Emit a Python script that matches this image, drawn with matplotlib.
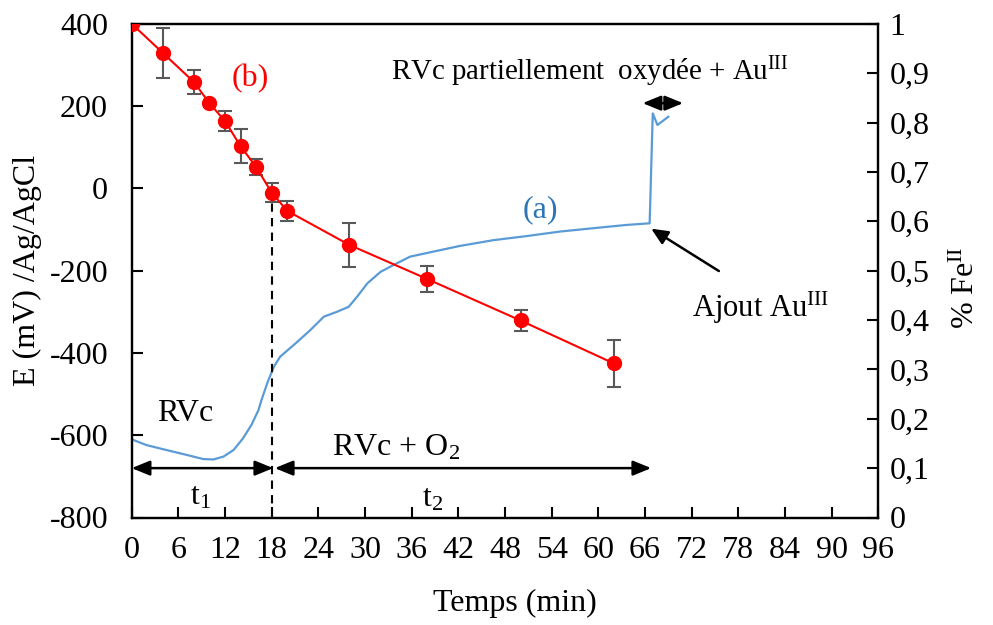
import numpy as np
import matplotlib
matplotlib.use("Agg")
import matplotlib.pyplot as plt
from matplotlib.ticker import FuncFormatter, MultipleLocator

plt.rcParams['font.family'] = ['Liberation Serif', 'DejaVu Serif']
plt.rcParams['mathtext.fontset'] = 'custom'
plt.rcParams['mathtext.rm'] = 'Liberation Serif'
plt.rcParams['mathtext.it'] = 'Liberation Serif:italic'
plt.rcParams['axes.unicode_minus'] = False

# (a) potential curve, E (mV) vs time (min)
t_a = [0, 1.9, 4.9, 7.1, 9.2, 10.5, 11.8, 13.1, 14.3, 15.4, 16.3, 16.7, 17.5,
       18.3, 19.1, 21.3, 23.0, 24.7, 26.4, 27.9, 29.0, 30.3, 32.0, 33.7, 35.8,
       38.0, 42.2, 46.5, 50.8, 55.1, 59.3, 63.6, 66.6, 67.0, 67.6, 69.0]
E_a = [-610, -624, -638, -648, -658, -659, -652, -636, -608, -575, -539, -514, -470,
       -433, -409, -373, -344, -312, -300, -288, -263, -231, -203, -186, -166,
       -157, -140, -126, -116, -105, -97, -89, -85, 182, 154, 174]

# (b) fraction of Fe(II) with error bars
t_b = [0, 4, 8, 10, 12, 14, 16, 18, 20, 28, 38, 50, 62]
fe_b = [1.0, 0.941, 0.882, 0.839, 0.803, 0.752, 0.710, 0.658, 0.621, 0.552, 0.483, 0.399, 0.312]
err_b = [0, 0.051, 0.025, 0.0, 0.020, 0.034, 0.017, 0.020, 0.020, 0.044, 0.026, 0.022, 0.047]

fs = 23
fig = plt.figure(figsize=(9.93, 6.25), dpi=100)
ax = fig.add_axes([0.1326, 0.172, 0.7519, 0.790])
ax2 = ax.twinx()

ax.plot(t_a, E_a, color='#5B9BD5', lw=1.6)
ax2.errorbar(t_b, fe_b, yerr=err_b, fmt='none', ecolor='#595959', elinewidth=1.5,
             capsize=5, capthick=1.5, zorder=2)
ax2.plot(t_b, fe_b, color='red', lw=1.5, marker='o', markersize=10, zorder=3)

# dashed line at t = 18
ax2.plot([18, 18], [0, fe_b[7]], color='black', ls=(0, (4, 3)), lw=1.5, zorder=1)

ax.set_xlim(0, 96)
ax.set_ylim(-800, 400)
ax2.set_ylim(0, 1)
ax.xaxis.set_major_locator(MultipleLocator(6))
ax.yaxis.set_major_locator(MultipleLocator(200))
ax2.yaxis.set_major_locator(MultipleLocator(0.1))
ax.yaxis.set_major_formatter(FuncFormatter(lambda v, p: f"{int(round(v))}"))


def fr(v, p):
    if abs(v) < 1e-9:
        return "0"
    if abs(v - 1) < 1e-9:
        return "1"
    return f"{v:.1f}".replace('.', ',')


ax2.yaxis.set_major_formatter(FuncFormatter(fr))

for a in (ax, ax2):
    for s in a.spines.values():
        s.set_linewidth(1.6)
ax.tick_params(axis='both', direction='in', length=8, width=1.5, labelsize=fs)
ax.tick_params(axis='y', pad=17)
ax.tick_params(axis='x', pad=13)
ax2.tick_params(axis='y', direction='in', length=8, width=1.5, labelsize=fs, pad=8)

ax.set_xlabel("Temps (min)", fontsize=fs)
ax.xaxis.set_label_coords(0.513, -0.145)
ax.set_ylabel("E (mV) /Ag/AgCl", fontsize=fs)
ax.yaxis.set_label_coords(-0.12, 0.5)
ax2.set_ylabel(r"% Fe$^{\mathrm{II}}$", fontsize=fs)
ax2.yaxis.set_label_coords(1.098, 0.465)

# labels of the curves
ax.text(15.3, 267, "(b)", color='red', fontsize=fs, ha='center', va='center')
ax.text(52.5, -53, "(a)", color='#2E75B6', fontsize=fs, ha='center', va='center')

# time intervals
arr = dict(arrowstyle='<|-|>,head_length=1.1,head_width=0.45', color='black', lw=1.8,
           shrinkA=0, shrinkB=0)
ax.annotate("", xy=(0, -680), xytext=(18.2, -680), arrowprops=arr)
ax.annotate("", xy=(18.4, -680), xytext=(66.8, -680), arrowprops=arr)
ax.annotate("", xy=(65.7, 207), xytext=(70.9, 207), arrowprops=arr)
ax.text(6.9, -548, "RVc", fontsize=fs, ha='center', va='center')
ax.text(34.0, -631, r"RVc + O$_2$", fontsize=fs, ha='center', va='center')
ax.text(8.9, -750, r"t$_1$", fontsize=fs, ha='center', va='center')
ax.text(38.7, -755, r"t$_2$", fontsize=fs, ha='center', va='center')

ax.text(33.4, 263, r"RVc partiellement  oxydée + Au$^{\mathrm{III}}$", fontsize=20.8,
        ha='left', va='baseline')

ax.annotate("", xy=(66.8, -98), xytext=(75.5, -201),
            arrowprops=dict(arrowstyle='-|>,head_length=1.0,head_width=0.45',
                            color='black', lw=1.8, shrinkA=0, shrinkB=0))
ax.text(72.1, -313, r"Ajout Au$^{\mathrm{III}}$", fontsize=22, ha='left', va='baseline')

fig.savefig("out.png", dpi=100)
